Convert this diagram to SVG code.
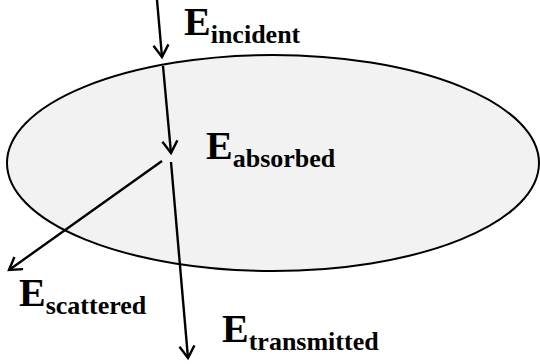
<svg xmlns="http://www.w3.org/2000/svg" width="540" height="364" viewBox="0 0 540 364">
  <style>
    .conn { stroke: #000; stroke-width: 2.4; fill: none; marker-end: url(#arrow); }
    .lbl { font-family: "Liberation Serif", "Times New Roman", serif; font-weight: bold; font-size: 40px; fill: #000; }
    .sub { font-size: 26px; }
  </style>
  <defs>
    <marker id="arrow" markerUnits="userSpaceOnUse" markerWidth="20" markerHeight="20" viewBox="-14 -10 16 20" refX="0" refY="0" orient="auto">
      <path d="M-12,-7.5 L0,0 L-12,7.5" fill="none" stroke="#000" stroke-width="2.4"/>
    </marker>
  </defs>
  <rect width="540" height="364" fill="#fff"/>
  <g id="medium">
    <ellipse cx="273" cy="163" rx="266" ry="108" fill="#f2f2f2" stroke="#000" stroke-width="2"/>
  </g>
  <g id="connectors">
    <line class="conn" x1="157" y1="0" x2="162" y2="57"/>
    <line class="conn" x1="163" y1="66" x2="171" y2="153"/>
    <line class="conn" x1="162" y1="161" x2="9" y2="270"/>
    <line class="conn" x1="171" y1="162" x2="188" y2="358"/>
  </g>
  <g id="incident">
    <text class="lbl" x="184" y="35">E<tspan class="sub" dy="8">incident</tspan></text>
  </g>
  <g id="absorbed">
    <text class="lbl" x="206" y="159">E<tspan class="sub" dy="8">absorbed</tspan></text>
  </g>
  <g id="scattered">
    <text class="lbl" x="19" y="306">E<tspan class="sub" dy="8">scattered</tspan></text>
  </g>
  <g id="transmitted">
    <text class="lbl" x="222" y="342">E<tspan class="sub" dy="8">transmitted</tspan></text>
  </g>
</svg>
